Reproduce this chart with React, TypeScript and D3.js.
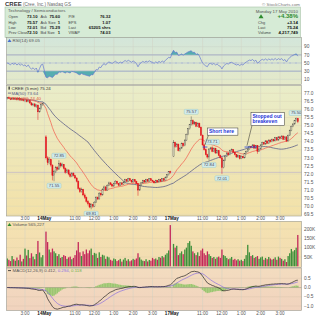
import React from "react";
import * as d3 from "d3";

type Bar = [number, number, number, number];

const dayNames = ["13May", "14May", "17May"];
const dayStartMin = [14 * 60 + 5, 9 * 60 + 30, 9 * 60 + 30];

const bars13: Bar[] = [
  [76.7, 76.78, 76.62, 76.72], [76.72, 76.8, 76.66, 76.68], [76.68, 76.74, 76.58, 76.62], [76.62, 76.75, 76.6, 76.7],
  [76.7, 76.76, 76.6, 76.64], [76.64, 76.72, 76.58, 76.69], [76.69, 76.74, 76.55, 76.6], [76.6, 76.7, 76.56, 76.66],
  [76.66, 76.71, 76.52, 76.58], [76.58, 76.68, 76.54, 76.63], [76.63, 76.66, 76.5, 76.55], [76.55, 76.62, 76.45, 76.58],
  [76.58, 76.64, 76.44, 76.48], [76.48, 76.6, 76.44, 76.56], [76.56, 76.58, 76.35, 76.4], [76.4, 76.46, 76.22, 76.28],
  [76.28, 76.38, 76.2, 76.34], [76.34, 76.4, 76.14, 76.2], [76.2, 76.32, 76.1, 76.27], [76.27, 76.3, 75.35, 75.85],
  [75.85, 76.12, 75.8, 76.05], [76.05, 76.38, 76.0, 76.3], [76.3, 76.42, 76.22, 76.35],
];

const bars14: Bar[] = [
  [74.3, 74.4, 72.9, 73.0], [73.0, 73.1, 72.55, 72.7], [72.7, 73.05, 72.6, 72.9], [72.9, 72.95, 72.45, 72.55],
  [72.55, 72.6, 71.6, 71.9], [71.9, 72.25, 71.55, 72.15], [72.15, 72.5, 72.05, 72.4], [72.4, 72.48, 72.2, 72.3],
  [72.3, 72.85, 72.25, 72.65], [72.65, 72.72, 72.4, 72.5], [72.5, 72.7, 72.42, 72.6], [72.6, 72.62, 72.28, 72.35],
  [72.35, 72.4, 72.02, 72.1], [72.1, 72.32, 72.05, 72.25], [72.25, 72.28, 71.92, 72.0], [72.0, 72.08, 71.78, 71.85],
  [71.85, 72.12, 71.8, 72.05], [72.05, 72.1, 71.84, 71.9], [71.9, 71.95, 71.68, 71.75], [71.75, 71.8, 71.48, 71.55],
  [71.55, 71.6, 71.02, 71.1], [71.1, 71.18, 70.82, 70.9], [70.9, 71.15, 70.85, 71.05], [71.05, 71.08, 70.62, 70.7],
  [70.7, 70.8, 70.45, 70.55], [70.55, 70.6, 70.22, 70.3], [70.3, 70.38, 70.05, 70.15], [70.15, 70.22, 69.88, 69.95],
  [69.95, 70.18, 69.81, 70.1], [70.1, 70.15, 69.9, 70.0], [70.0, 70.32, 69.95, 70.25], [70.25, 70.62, 70.2, 70.55],
  [70.55, 70.6, 70.38, 70.45], [70.45, 70.88, 70.42, 70.8], [70.8, 70.85, 70.6, 70.7], [70.7, 71.12, 70.66, 71.05],
  [71.05, 71.28, 71.0, 71.2], [71.2, 71.24, 70.94, 71.0], [71.0, 71.36, 70.96, 71.3], [71.3, 71.52, 71.25, 71.45],
  [71.45, 71.5, 71.3, 71.35], [71.35, 71.4, 71.18, 71.25], [71.25, 71.46, 71.2, 71.4], [71.4, 71.62, 71.36, 71.55],
  [71.55, 71.58, 71.34, 71.4], [71.4, 71.44, 71.24, 71.3], [71.3, 71.5, 71.26, 71.45], [71.45, 71.48, 71.3, 71.35],
  [71.35, 71.55, 71.32, 71.5], [71.5, 71.7, 71.46, 71.65], [71.65, 71.68, 71.5, 71.55], [71.55, 71.76, 71.52, 71.7],
  [71.7, 71.74, 71.55, 71.6], [71.6, 71.64, 71.45, 71.5], [71.5, 71.7, 71.46, 71.65], [71.65, 71.68, 71.5, 71.55],
  [71.55, 71.58, 71.36, 71.4], [71.4, 71.44, 70.65, 71.0], [71.0, 71.35, 70.95, 71.3], [71.3, 71.5, 71.26, 71.45],
  [71.45, 71.64, 71.4, 71.6], [71.6, 71.62, 71.45, 71.5], [71.5, 71.7, 71.46, 71.65], [71.65, 71.68, 71.5, 71.55],
  [71.55, 71.75, 71.52, 71.7], [71.7, 71.72, 71.55, 71.6], [71.6, 71.64, 71.5, 71.55], [71.55, 71.58, 71.4, 71.45],
  [71.45, 71.65, 71.42, 71.6], [71.6, 71.62, 71.46, 71.5], [71.5, 71.7, 71.48, 71.65], [71.65, 71.68, 71.5, 71.55],
  [71.55, 71.75, 71.52, 71.7], [71.7, 71.72, 71.56, 71.6], [71.6, 71.85, 71.58, 71.8], [71.8, 72.0, 71.76, 71.95],
  [71.95, 72.18, 71.9, 72.15], [72.15, 72.2, 72.02, 72.1],
];

const bars17: Bar[] = [
  [73.1, 74.1, 73.05, 73.95], [73.95, 74.0, 73.62, 73.7], [73.7, 73.92, 73.65, 73.85], [73.85, 73.88, 73.4, 73.45],
  [73.45, 73.66, 73.38, 73.6], [73.6, 73.95, 73.55, 73.9], [73.9, 73.94, 73.68, 73.75], [73.75, 74.15, 73.72, 74.1],
  [74.1, 74.5, 74.05, 74.45], [74.45, 74.85, 74.4, 74.8], [74.8, 75.1, 74.75, 75.05], [75.05, 75.57, 75.0, 75.3],
  [75.3, 75.38, 75.02, 75.1], [75.1, 75.28, 75.05, 75.2], [75.2, 75.24, 74.9, 74.95], [74.95, 75.2, 74.92, 75.15],
  [75.15, 75.18, 74.85, 74.9], [74.9, 74.95, 74.35, 74.4], [74.4, 74.45, 73.75, 73.8], [73.8, 73.88, 73.45, 73.5],
  [73.5, 73.58, 73.15, 73.2], [73.2, 73.25, 72.95, 73.05], [73.05, 73.6, 72.84, 73.55], [73.55, 73.68, 73.5, 73.62],
  [73.62, 73.71, 73.35, 73.4], [73.4, 73.65, 73.36, 73.6], [73.6, 73.62, 73.25, 73.3], [73.3, 73.5, 73.26, 73.45],
  [73.45, 73.48, 73.1, 73.15], [73.15, 73.2, 72.95, 73.0], [73.0, 73.05, 72.01, 72.4], [72.4, 72.9, 72.35, 72.85],
  [72.85, 73.15, 72.8, 73.1], [73.1, 73.35, 73.05, 73.3], [73.3, 73.34, 73.12, 73.2], [73.2, 73.5, 73.16, 73.45],
  [73.45, 73.58, 73.4, 73.5], [73.5, 73.54, 73.3, 73.35], [73.35, 73.38, 73.15, 73.2], [73.2, 73.24, 73.0, 73.05],
  [73.05, 73.2, 73.0, 73.15], [73.15, 73.18, 72.9, 72.95], [72.95, 73.15, 72.92, 73.1], [73.1, 73.12, 72.95, 73.0],
  [73.0, 73.3, 72.96, 73.25], [73.25, 73.45, 73.2, 73.4], [73.4, 73.6, 73.35, 73.55], [73.55, 73.75, 73.5, 73.7],
  [73.7, 73.74, 73.58, 73.65], [73.65, 73.85, 73.6, 73.8], [73.8, 73.84, 73.55, 73.6], [73.6, 73.8, 73.56, 73.75],
  [73.75, 73.78, 73.25, 73.4], [73.4, 73.6, 73.36, 73.55], [73.55, 73.85, 73.5, 73.8], [73.8, 74.0, 73.76, 73.95],
  [73.95, 73.98, 73.8, 73.85], [73.85, 74.1, 73.82, 74.05], [74.05, 74.08, 73.86, 73.9], [73.9, 74.15, 73.88, 74.1],
  [74.1, 74.14, 73.95, 74.0], [74.0, 74.2, 73.96, 74.15], [74.15, 74.18, 74.0, 74.05], [74.05, 74.3, 74.02, 74.25],
  [74.25, 74.28, 74.05, 74.1], [74.1, 74.35, 74.06, 74.3], [74.3, 74.34, 74.15, 74.2], [74.2, 74.4, 74.16, 74.35],
  [74.35, 74.38, 74.1, 74.15], [74.15, 74.35, 74.12, 74.3], [74.3, 74.34, 73.98, 74.05], [74.05, 74.45, 74.0, 74.4],
  [74.4, 74.75, 74.35, 74.7], [74.7, 75.0, 74.65, 74.95], [74.95, 75.15, 74.9, 75.1], [75.1, 75.35, 75.05, 75.3],
  [75.3, 75.5, 75.25, 75.45], [75.45, 75.48, 75.15, 75.24],
];

const vol13 = [42, 35, 28, 55, 38, 30, 47, 33, 62, 26, 40, 95, 58, 88, 44, 70, 52, 38, 66, 136, 74, 48, 60];
const vol14 = [
  186, 130, 90, 75, 95, 80, 70, 55, 65, 45, 50, 60, 55, 40, 48, 52, 38, 45, 60, 85,
  130, 75, 55, 80, 65, 90, 70, 85, 95, 60, 72, 68, 45, 75, 50, 62, 58, 40, 52, 48,
  35, 30, 42, 38, 28, 33, 40, 25, 36, 45, 30, 38, 27, 32, 40, 35, 42, 70, 48, 36,
  30, 28, 38, 26, 34, 30, 45, 38, 42, 35, 50, 46, 55, 48, 62, 70, 85, 221,
];
const vol17 = [
  120, 100, 110, 60, 70, 80, 65, 90, 100, 125, 135, 110, 80, 70, 60, 75, 55, 85, 95, 70,
  60, 80, 65, 55, 45, 50, 40, 48, 52, 45, 90, 60, 55, 45, 38, 42, 50, 35, 40, 32,
  38, 30, 35, 28, 40, 60, 115, 75, 55, 60, 45, 50, 55, 40, 48, 52, 35, 45, 38, 50,
  42, 36, 40, 48, 35, 52, 45, 40, 30, 38, 23, 55, 70, 93, 80, 87, 100, 168,
];

const hourTickHours = [11, 12, 13, 14, 15];
const hourTickLabels = ["11:00", "12:00", "1:00", "2:00", "3:00"];
const priceTicks = [69.5, 70, 70.5, 71, 71.5, 72, 72.5, 73, 73.5, 74, 74.5, 75, 75.5, 76, 76.5, 77];
const rsiTicks = [10, 30, 50, 70, 90];
const volTicks = [50, 100, 150, 200];
const volTickLabels = ["50K", "100K", "150K", "200K"];
const macdTicks = [-1, -0.5, 0, 0.5];
const prevClose = 72.1;

const swingLabels = [
  { day: 1, k: 5, type: "low" }, { day: 1, k: 8, type: "high" }, { day: 1, k: 28, type: "low" },
  { day: 2, k: 11, type: "high" }, { day: 2, k: 24, type: "high" }, { day: 2, k: 22, type: "low" },
  { day: 2, k: 30, type: "low" }, { day: 2, k: 76, type: "high" },
];
const notes = [
  { day: 2, k: 21, price: 74.85, lines: ["Short here"], toK: 19.5, toPrice: 73.8 },
  { day: 2, k: 48, price: 75.8, lines: ["Stopped out", "breakeven"], toK: 45.5, toPrice: 73.75 },
];
const tradeLines = [
  { day: 2, k0: 18, k1: 21, price: 73.67 },
  { day: 2, k0: 44, k1: 51.5, price: 73.67 },
];

const headerRows = [
  ["Open", "73.10", "Ask", "75.60", "P/E", "76.32"],
  ["High", "75.57", "Ask Size", "1", "EPS", "1.07"],
  ["Low", "72.01", "Bid", "75.29", "Last", "65205 shrs"],
  ["Prev Close", "72.10", "Bid Size", "1", "VWAP", "74.03"],
];
const headerRight = [["Chg", "+3.14"], ["Last", "75.24"], ["Volume", "4,217,749"]];

const PX0 = 6.5, PX1 = 301.5;
const RSI_P = [37.5, 84.5], PRICE_P = [85.5, 216], VOL_P = [221.3, 267.5], MACD_P = [268, 310.5];
const FONT = "Liberation Sans, Arial, sans-serif";

export default function App() {
  const dayBars = [bars13, bars14, bars17];
  const dayVols = [vol13, vol14, vol17];
  const dayOffset: number[] = [];
  const dayIndex: number[] = [];
  const gapSlots: number[] = [];
  const bars: any[] = [];
  let slot = 0;
  dayBars.forEach((d, di) => {
    if (di > 0) { gapSlots.push(slot); slot += 1; }
    dayOffset.push(slot);
    dayIndex.push(bars.length);
    d.forEach((b, k) => {
      bars.push({ o: b[0], h: b[1], l: b[2], c: b[3], v: dayVols[di][k], slot, day: di, k });
      slot++;
    });
  });
  const lastSlot = slot - 1;
  const x = d3.scaleLinear().domain([0, lastSlot]).range([7.25, 297.8]);
  const xOf = (day: number, k: number) => x(dayOffset[day] + k);
  const yP = d3.scaleLinear().domain([69.5, 77]).range([214.3, 93.3]);
  const yR = d3.scaleLinear().domain([10, 90]).range([79.3, 46.7]);
  const yV = d3.scaleLinear().domain([0, 200]).range([266.3, 229]);
  const yM = d3.scaleLinear().domain([-1, 0.5]).range([306, 278.3]);

  const closes = bars.map((b) => b.c);
  const ema = (arr: number[], n: number, seed?: number) => {
    const a = 2 / (n + 1);
    const out: number[] = [];
    arr.forEach((v, i) => {
      out.push(i === 0 ? (seed ?? v) : out[i - 1] + a * (v - out[i - 1]));
    });
    return out;
  };
  const ema20 = ema(closes, 20);
  const sma50 = closes.map((_, i) => d3.mean(closes.slice(Math.max(0, i - 49), i + 1)) as number);
  const e12 = ema(closes, 12), e26 = ema(closes, 26);
  const macd = e12.map((v, i) => v - e26[i]);
  const sig = ema(macd, 9, 0);
  const hist = macd.map((v, i) => v - sig[i]);
  let ag = 0.04, al = 0.04;
  const rsi = closes.map((c, i) => {
    if (i > 0) {
      const ch = c - closes[i - 1];
      ag = (ag * 13 + Math.max(ch, 0)) / 14;
      al = (al * 13 + Math.max(-ch, 0)) / 14;
    }
    return 100 - 100 / (1 + ag / al);
  });
  bars.forEach((b, i) => {
    b.ema = ema20[i]; b.sma = sma50[i]; b.macd = macd[i]; b.sig = sig[i]; b.hist = hist[i]; b.rsi = rsi[i];
    b.up = i === 0 ? b.c >= b.o : b.c >= bars[i - 1].c;
  });

  const ticks: { slot: number; label: string; bold: boolean }[] = [];
  dayBars.forEach((d, di) => {
    if (di > 0) ticks.push({ slot: gapSlots[di - 1], label: dayNames[di], bold: true });
    hourTickHours.forEach((h, hi) => {
      const k = (h * 60 - dayStartMin[di]) / 5;
      if (k >= 0 && k < d.length) ticks.push({ slot: dayOffset[di] + k, label: hourTickLabels[hi], bold: false });
    });
  });

  const lineOf = (acc: (b: any) => number, ys: any) =>
    d3.line<any>().x((b) => x(b.slot)).y((b) => ys(acc(b)))(bars) as string;
  const rsiHigh = d3.area<any>().x((b) => x(b.slot)).y0(yR(70)).y1((b) => yR(Math.max(b.rsi, 70)))(bars) as string;
  const rsiLow = d3.area<any>().x((b) => x(b.slot)).y0(yR(30)).y1((b) => yR(Math.min(b.rsi, 30)))(bars) as string;

  const panelRect = (p: number[], fill: string, id: string) => (
    <g>
      <rect x={PX0} y={p[0]} width={PX1 - PX0} height={p[1] - p[0]} fill={fill} />
      <clipPath id={id}><rect x={PX0} y={p[0]} width={PX1 - PX0} height={p[1] - p[0]} /></clipPath>
    </g>
  );
  const vGrid = (p: number[]) =>
    ticks.map((t, i) => (
      <line key={i} x1={x(t.slot)} x2={x(t.slot)} y1={p[0]} y2={p[1]} stroke="#d3d3c4" strokeWidth={0.5} />
    ));
  const border = (p: number[]) => (
    <rect x={PX0} y={p[0]} width={PX1 - PX0} height={p[1] - p[0]} fill="none" stroke="#9a9a90" strokeWidth={0.6} />
  );
  const axisLabels = (vals: number[], ys: any, fmt: (v: number) => string) =>
    vals.map((v, i) => (
      <text key={i} x={304} y={ys(v) + 1.7} fontSize={4.8} fill="#555">{fmt(v)}</text>
    ));
  const xLabels = (yy: number) =>
    ticks.map((t, i) => (
      <text key={i} x={x(t.slot)} y={yy} fontSize={4.6} textAnchor="middle" fill={t.bold ? "#111" : "#555"}
        fontWeight={t.bold ? "bold" : "normal"}>{t.label}</text>
    ));
  const f1 = d3.format(".1f"), f2 = d3.format(".2f");

  return (
    <svg width={320} height={320} style={{ position: "absolute", left: 0, top: 0, background: "#fff" }} fontFamily={FONT}>
      <defs>
        <linearGradient id="gR" x1="0" y1="0" x2="0" y2="1">
          <stop offset="0" stopColor="#d3e6da" /><stop offset="1" stopColor="#e5e9c9" />
        </linearGradient>
        <linearGradient id="gP" x1="0" y1="0" x2="0" y2="1">
          <stop offset="0" stopColor="#e9edc9" /><stop offset="1" stopColor="#f3e1a8" />
        </linearGradient>
        <linearGradient id="gV" x1="0" y1="0" x2="0" y2="1">
          <stop offset="0" stopColor="#f4e2b1" /><stop offset="1" stopColor="#f3dcb2" />
        </linearGradient>
        <linearGradient id="gM" x1="0" y1="0" x2="0" y2="1">
          <stop offset="0" stopColor="#f3dcbf" /><stop offset="1" stopColor="#f1d3be" />
        </linearGradient>
      </defs>

      <text x={5} y={5.6} fontSize={6} fontWeight="bold" fill="#333">CREE
        <tspan fontSize={4.6} fontWeight="normal" fill="#666"> (Cree, Inc.)  Nasdaq GS</tspan></text>
      <text x={300} y={5.6} fontSize={4.4} textAnchor="end" fill="#777">© StockCharts.com</text>

      <rect x={5} y={7} width={295.5} height={30.5} fill="#d6ebd6" stroke="#a8c4a8" strokeWidth={0.6} />
      <text x={8} y={12.4} fontSize={4.4} fill="#555">Technology / Semiconductors</text>
      {headerRows.map((r, i) => {
        const yy = 18.2 + i * 5.4;
        return (
          <g key={i}>
            <text x={8.5} y={yy} fontSize={3.9} fill="#444">{r[0]}</text>
            <text x={37.5} y={yy} fontSize={4.2} textAnchor="end" fontWeight="bold" fill="#111">{r[1]}</text>
            <text x={40.5} y={yy} fontSize={3.9} fill="#444">{r[2]}</text>
            <text x={60} y={yy} fontSize={4.2} textAnchor="end" fontWeight="bold" fill="#111">{r[3]}</text>
            <text x={68.5} y={yy} fontSize={3.9} fill="#444">{r[4]}</text>
            <text x={110.5} y={yy} fontSize={4.2} textAnchor="end" fontWeight="bold" fill="#111">{r[5]}</text>
          </g>
        );
      })}
      <text x={298} y={12.6} fontSize={4.4} textAnchor="end" fill="#555">Monday 17 May 2010</text>
      <path d="M258.5,18.2 L261,14.2 L263.5,18.2 Z" fill="#2e8b2e" />
      <text x={298} y={18.4} fontSize={6} textAnchor="end" fontWeight="bold" fill="#2e8b2e">+4.38%</text>
      {headerRight.map((r, i) => (
        <g key={i}>
          <text x={258} y={23.6 + i * 5.4} fontSize={3.9} fill="#444">{r[0]}</text>
          <text x={298} y={23.6 + i * 5.4} fontSize={4.4} textAnchor="end" fontWeight="bold" fill="#111">{r[1]}</text>
        </g>
      ))}

      {panelRect(RSI_P, "url(#gR)", "cR")}
      {vGrid(RSI_P)}
      {[10, 90].map((v) => <line key={v} x1={PX0} x2={PX1} y1={yR(v)} y2={yR(v)} stroke="#c9d2c9" strokeWidth={0.5} />)}
      <line x1={PX0} x2={PX1} y1={yR(70)} y2={yR(70)} stroke="#aeb6c6" strokeWidth={1.4} />
      <line x1={PX0} x2={PX1} y1={yR(30)} y2={yR(30)} stroke="#8c98c4" strokeWidth={0.8} />
      <line x1={PX0} x2={PX1} y1={yR(50)} y2={yR(50)} stroke="#7d8ad6" strokeWidth={0.6} strokeDasharray="3,1,1,1" />
      <g clipPath="url(#cR)">
        <path d={rsiHigh} fill="#55adb0" />
        <path d={rsiLow} fill="#55adb0" />
        <path d={lineOf((b) => b.rsi, yR)} fill="none" stroke="#6678d2" strokeWidth={0.7} />
      </g>
      {border(RSI_P)}
      <path d="M7.5,42 L9.5,39 L11.5,42 Z" fill="#4a6fd0" />
      <text x={12.5} y={42} fontSize={4.4} fill="#555">RSI(14) 69.05</text>
      {axisLabels(rsiTicks, yR, (v) => String(v))}

      {panelRect(PRICE_P, "url(#gP)", "cP")}
      {vGrid(PRICE_P)}
      {priceTicks.map((v) => <line key={v} x1={PX0} x2={PX1} y1={yP(v)} y2={yP(v)} stroke="#ddd7b6" strokeWidth={0.5} />)}
      <g clipPath="url(#cP)">
        <line x1={PX0} x2={PX1} y1={yP(prevClose)} y2={yP(prevClose)} stroke="#7a74e6" strokeWidth={0.6} strokeDasharray="1,1" />
        <path d={lineOf((b) => b.sma, yP)} fill="none" stroke="#5d5f88" strokeWidth={0.8} />
        <path d={lineOf((b) => b.ema, yP)} fill="none" stroke="#f26a58" strokeWidth={0.8} />
        {bars.map((b, i) => {
          const cx = x(b.slot);
          const down = b.c < b.o;
          const col = down ? "#e3141e" : "#56564e";
          const top = yP(Math.max(b.o, b.c));
          const hgt = Math.max(0.6, Math.abs(yP(b.o) - yP(b.c)));
          return (
            <g key={i}>
              <line x1={cx} x2={cx} y1={yP(b.h)} y2={yP(b.l)} stroke={col} strokeWidth={0.5} />
              <rect x={cx - 0.6} y={top} width={1.2} height={hgt} fill={down ? col : "#d8d5bc"} stroke={col} strokeWidth={0.35} />
            </g>
          );
        })}
        {tradeLines.map((t, i) => (
          <line key={i} x1={xOf(t.day, t.k0)} x2={xOf(t.day, t.k1)} y1={yP(t.price)} y2={yP(t.price)} stroke="#1f3fe0" strokeWidth={0.8} />
        ))}
        {swingLabels.map((s, i) => {
          const b = bars[dayIndex[s.day] + s.k];
          const val = s.type === "high" ? b.h : b.l;
          const txt = f2(val);
          const w = txt.length * 2.4 + 2;
          const cx = x(b.slot);
          const yy = s.type === "high" ? yP(val) - 7 : yP(val) + 2;
          return (
            <g key={i}>
              <rect x={cx - w / 2} y={yy} width={w} height={5} rx={1} fill="#d2ecec" stroke="#8fc4c4" strokeWidth={0.4} />
              <text x={cx} y={yy + 3.9} fontSize={4.2} textAnchor="middle" fill="#445">{txt}</text>
            </g>
          );
        })}
        {notes.map((n, i) => {
          const bx = xOf(n.day, n.k);
          const by = yP(n.price);
          const w = (d3.max(n.lines, (l) => l.length) as number) * 2.75 + 3;
          const h = n.lines.length * 5.6 + 1.6;
          return (
            <g key={i}>
              <line x1={bx + 1} y1={by + h} x2={xOf(n.day, n.toK)} y2={yP(n.toPrice)} stroke="#222" strokeWidth={0.5} />
              <rect x={bx} y={by} width={w} height={h} fill="#fff" stroke="#333" strokeWidth={0.5} />
              {n.lines.map((l, j) => (
                <text key={j} x={bx + 1.5} y={by + 5 + j * 5.6} fontSize={5} fontWeight="bold" fill="#1d33d6">{l}</text>
              ))}
            </g>
          );
        })}
      </g>
      {border(PRICE_P)}
      <g fontSize={4.4}>
        <rect x={8.5} y={86.6} width={1.3} height={3} fill="#333" />
        <text x={11.5} y={89.5} fill="#333">CREE (5 min) 75.24</text>
        <line x1={8} x2={11} y1={93.1} y2={93.1} stroke="#5d5f88" strokeWidth={0.8} />
        <text x={11.5} y={94.6} fill="#5d5f88">MA(50) 73.64</text>
        <line x1={8} x2={11} y1={98.2} y2={98.2} stroke="#f26a58" strokeWidth={0.8} />
        <text x={11.5} y={99.7} fill="#e0503f">EMA(20) 74.40</text>
      </g>
      {axisLabels(priceTicks, yP, (v) => f1(v))}
      {xLabels(220.3)}

      {panelRect(VOL_P, "url(#gV)", "cV")}
      {vGrid(VOL_P)}
      {volTicks.map((v) => <line key={v} x1={PX0} x2={PX1} y1={yV(v)} y2={yV(v)} stroke="#e0d2a6" strokeWidth={0.5} />)}
      <g clipPath="url(#cV)">
        {bars.map((b, i) => (
          <rect key={i} x={x(b.slot) - 0.65} y={yV(b.v)} width={1.3} height={yV(0) - yV(b.v)} fill={b.up ? "#3d8f3a" : "#c3285a"} />
        ))}
      </g>
      {border(VOL_P)}
      <path d="M7.5,226 L9.5,223 L11.5,226 Z" fill="#2e8b2e" />
      <text x={12.5} y={226} fontSize={4.4} fill="#555">Volume 565,227</text>
      {volTicks.map((v, i) => (
        <text key={i} x={304} y={yV(v) + 1.7} fontSize={4.8} fill="#555">{volTickLabels[i]}</text>
      ))}

      {panelRect(MACD_P, "url(#gM)", "cM")}
      {vGrid(MACD_P)}
      {macdTicks.map((v) => <line key={v} x1={PX0} x2={PX1} y1={yM(v)} y2={yM(v)} stroke="#dcc6ae" strokeWidth={0.5} />)}
      <g clipPath="url(#cM)">
        {bars.map((b, i) => (
          <rect key={i} x={x(b.slot) - 0.8} y={Math.min(yM(b.hist), yM(0))} width={1.6} height={Math.abs(yM(b.hist) - yM(0))} fill="#8cc464" opacity={0.85} />
        ))}
        <line x1={PX0} x2={PX1} y1={yM(0)} y2={yM(0)} stroke="#8b8b7a" strokeWidth={0.4} />
        <path d={lineOf((b) => b.sig, yM)} fill="none" stroke="#8a6fe0" strokeWidth={0.7} />
        <path d={lineOf((b) => b.macd, yM)} fill="none" stroke="#222" strokeWidth={0.7} />
      </g>
      {border(MACD_P)}
      <line x1={8} x2={11} y1={270.6} y2={270.6} stroke="#222" strokeWidth={0.8} />
      <text x={12.5} y={272.2} fontSize={4.4} fill="#555">MACD(12,26,9) 0.412,
        <tspan fill="#8a6fe0"> 0.294,</tspan><tspan fill="#6fb04a"> 0.118</tspan></text>
      {axisLabels(macdTicks, yM, (v) => f1(v))}
      {xLabels(315.2)}
    </svg>
  );
}
